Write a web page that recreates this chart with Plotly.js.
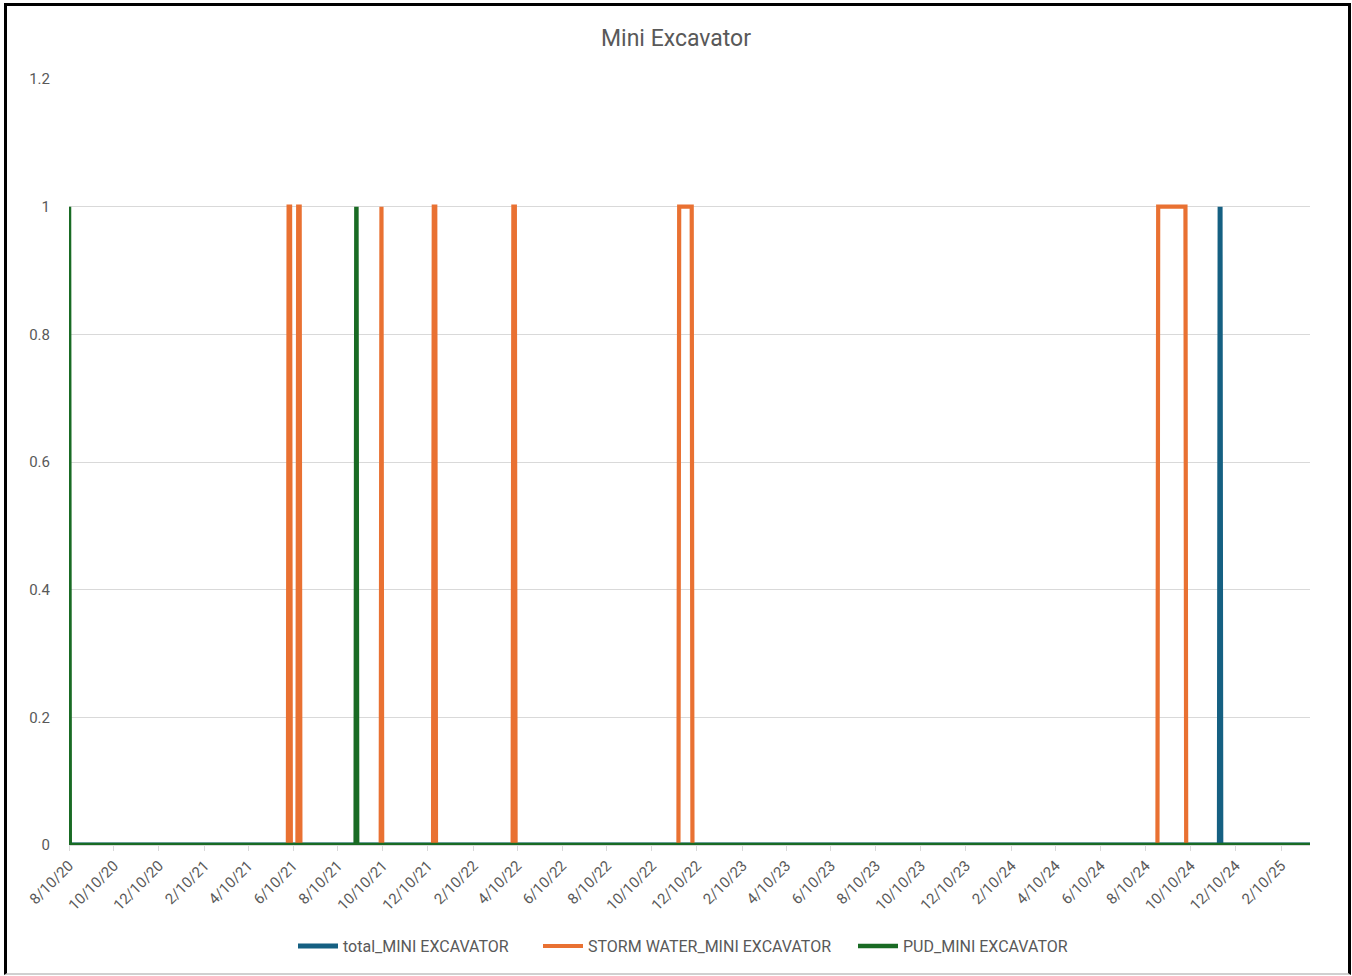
<!DOCTYPE html>
<html>
<head>
<meta charset="utf-8">
<script src="https://cdn.plot.ly/plotly-3.0.1.min.js"></script>
<style>
  html, body { margin: 0; padding: 0; background: #ffffff; }
  #chart { width: 1352px; height: 976px; }
  #frame { position: absolute; left: 4px; top: 3px; width: 1347px; height: 972px;
           border: 3px solid #000; border-bottom: 2px solid #d0d0d0; pointer-events: none; box-sizing: border-box; }
</style>
</head>
<body>
<div id="chart"></div>
<div id="frame"></div>
<script>
// ---- data ----
const totalDates = ['2020-08-10','2024-11-18','2024-11-19','2024-11-20','2025-03-21'];
const totalVals  = [0, 0, 1, 0, 0];

const stormDates = ['2020-08-10',
  '2021-06-03','2021-06-04','2021-06-06','2021-06-07',
  '2021-06-16','2021-06-17','2021-06-19','2021-06-20',
  '2021-10-07','2021-10-08','2021-10-09',
  '2021-12-17','2021-12-18','2021-12-20','2021-12-21',
  '2022-04-04','2022-04-05','2022-04-07','2022-04-08',
  '2022-11-15','2022-11-16','2022-12-03','2022-12-04',
  '2024-08-26','2024-08-27','2024-10-03','2024-10-04',
  '2025-03-21'];
const stormVals = [0,
  0,1,1,0,
  0,1,1,0,
  0,1,0,
  0,1,1,0,
  0,1,1,0,
  0,1,1,0,
  0,1,1,0,
  0];

const pudDates = ['2020-08-10','2020-08-11','2021-09-03','2021-09-04','2021-09-05','2025-03-21'];
const pudVals  = [1, 0, 0, 1, 0, 0];

const seriesNames = ['total_MINI EXCAVATOR', 'STORM WATER_MINI EXCAVATOR', 'PUD_MINI EXCAVATOR'];

const tickDates = ['2020-08-10','2020-10-10','2020-12-10','2021-02-10','2021-04-10','2021-06-10',
  '2021-08-10','2021-10-10','2021-12-10','2022-02-10','2022-04-10','2022-06-10','2022-08-10',
  '2022-10-10','2022-12-10','2023-02-10','2023-04-10','2023-06-10','2023-08-10','2023-10-10',
  '2023-12-10','2024-02-10','2024-04-10','2024-06-10','2024-08-10','2024-10-10','2024-12-10','2025-02-10'];
const tickLabels = ['8/10/20','10/10/20','12/10/20','2/10/21','4/10/21','6/10/21',
  '8/10/21','10/10/21','12/10/21','2/10/22','4/10/22','6/10/22','8/10/22',
  '10/10/22','12/10/22','2/10/23','4/10/23','6/10/23','8/10/23','10/10/23',
  '12/10/23','2/10/24','4/10/24','6/10/24','8/10/24','10/10/24','12/10/24','2/10/25'];

const yTicks = [0, 0.2, 0.4, 0.6, 0.8, 1, 1.2];
const yTickLabels = ['0', '0.2', '0.4', '0.6', '0.8', '1', '1.2'];

const FONT = '"Roboto", "Liberation Sans", sans-serif';
const TXT = '#595959';

const traces = [
  { x: totalDates, y: totalVals, name: seriesNames[0], type: 'scatter', mode: 'lines',
    legend: 'legend', line: { color: '#156082', width: 5 } },
  { x: stormDates, y: stormVals, name: seriesNames[1], type: 'scatter', mode: 'lines',
    legend: 'legend2', line: { color: '#E97132', width: 4.2 } },
  { x: pudDates, y: pudVals, name: seriesNames[2], type: 'scatter', mode: 'lines',
    legend: 'legend3', line: { color: '#196B24', width: 4.5 } }
];

const plotL = 69, plotW = 1352 - 69 - 42;
function legendAt(px) {
  return { orientation: 'h', x: (px - plotL) / plotW, xanchor: 'left', y: -0.132, yanchor: 'middle',
           font: { family: FONT, size: 16, color: TXT }, bgcolor: 'rgba(0,0,0,0)', itemwidth: 40 };
}

const layout = {
  width: 1352, height: 976,
  paper_bgcolor: '#ffffff', plot_bgcolor: '#ffffff',
  margin: { l: plotL, r: 42, t: 79, b: 131 },
  font: { family: FONT, color: TXT, size: 15 },
  title: { text: 'Mini Excavator', font: { family: FONT, size: 23, color: TXT },
           x: 0.5, xref: 'container', xanchor: 'center', y: 1 - 38/976, yanchor: 'middle' },
  showlegend: true,
  legend: legendAt(293),
  legend2: legendAt(538),
  legend3: legendAt(853),
  hovermode: false,
  xaxis: {
    type: 'date', range: ['2020-08-10', '2025-03-21'],
    tickmode: 'array', tickvals: tickDates, ticktext: tickLabels,
    tickangle: -45, tickfont: { family: FONT, size: 15, color: TXT },
    showgrid: false, zeroline: false,
    showline: true, linecolor: '#d9d9d9', linewidth: 1,
    ticks: 'outside', ticklen: 5, tickcolor: '#d9d9d9',
    automargin: false
  },
  yaxis: {
    range: [0, 1.2], tickmode: 'array', tickvals: yTicks, ticktext: yTickLabels,
    tickfont: { family: FONT, size: 15, color: TXT },
    showgrid: true, gridcolor: '#d9d9d9', gridwidth: 1,
    zeroline: false, showline: false, ticks: 'outside', ticklen: 15, tickcolor: 'rgba(0,0,0,0)',
    automargin: false
  }
};

Plotly.newPlot('chart', traces, layout, { displayModeBar: false, staticPlot: true });
</script>
</body>
</html>
